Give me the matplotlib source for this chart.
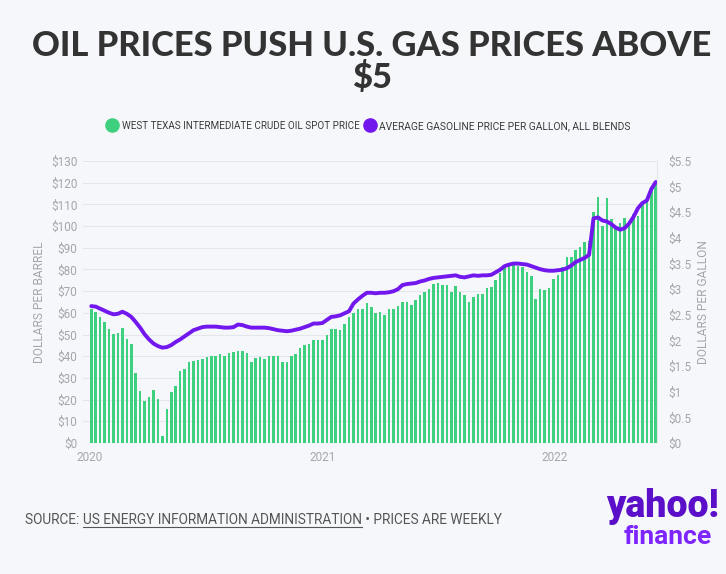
import matplotlib
matplotlib.use("Agg")
import matplotlib.pyplot as plt
import matplotlib.dates as mdates
from matplotlib.lines import Line2D
import pandas as pd

# --- DATOS (semanal, ene 2020 - jun 2022) ---
fechas = pd.date_range("2020-01-03", "2022-06-10", freq="W-FRI")

wti = [
    61.7, 60.6, 58.2, 55.9, 52.4, 50.2, 50.5, 52.8, 48.1, 45.5,
    32.2, 23.9, 19.3, 21.4, 24.3, 20.1, 3.2, 15.6, 23.3, 26.2,
    33.1, 34.0, 37.2, 37.7, 38.1, 38.9, 39.5, 40.0, 40.1, 41.0,
    40.3, 41.3, 41.8, 42.4, 42.6, 41.6, 37.2, 39.4, 39.5, 38.7,
    40.0, 40.0, 40.1, 37.2, 37.5, 40.3, 41.2, 44.0, 45.0, 45.8,
    47.6, 47.3, 47.6, 49.8, 52.5, 52.5, 52.2, 55.0, 58.2, 60.0,
    61.9, 61.9, 64.6, 62.8, 59.7, 60.3, 59.1, 61.6, 61.9, 63.1,
    64.8, 64.8, 63.7, 66.0, 68.4, 69.8, 71.1, 73.2, 73.8, 73.0,
    72.9, 69.4, 72.4, 69.4, 68.0, 64.8, 67.2, 68.9, 68.8, 71.3,
    71.8, 75.2, 78.2, 81.3, 83.0, 83.5, 81.5, 81.3, 78.7, 77.0,
    66.5, 71.0, 70.7, 71.4, 75.6, 77.5, 81.0, 85.9, 85.6, 89.0,
    90.5, 92.5, 93.0, 106.3, 113.2, 100.1, 112.8, 103.2, 100.0, 101.5,
    103.6, 101.7, 105.5, 104.7, 110.5, 112.0, 118.0, 120.3,
]

gasolina = [
    2.67, 2.66, 2.62, 2.58, 2.54, 2.51, 2.52, 2.56, 2.52, 2.46,
    2.36, 2.25, 2.12, 2.02, 1.94, 1.89, 1.86, 1.87, 1.91, 1.97,
    2.02, 2.08, 2.14, 2.20, 2.23, 2.26, 2.27, 2.27, 2.27, 2.26,
    2.25, 2.25, 2.26, 2.31, 2.30, 2.27, 2.25, 2.25, 2.25, 2.25,
    2.24, 2.22, 2.20, 2.19, 2.18, 2.19, 2.21, 2.23, 2.26, 2.29,
    2.33, 2.33, 2.34, 2.40, 2.46, 2.47, 2.49, 2.53, 2.57, 2.72,
    2.80, 2.87, 2.93, 2.93, 2.92, 2.93, 2.93, 2.94, 2.96, 3.00,
    3.08, 3.10, 3.11, 3.12, 3.15, 3.17, 3.20, 3.22, 3.23, 3.24,
    3.25, 3.26, 3.27, 3.24, 3.23, 3.25, 3.27, 3.26, 3.27, 3.27,
    3.28, 3.33, 3.38, 3.45, 3.48, 3.50, 3.50, 3.49, 3.48, 3.45,
    3.42, 3.39, 3.37, 3.36, 3.36, 3.37, 3.38, 3.41, 3.46, 3.53,
    3.57, 3.61, 3.67, 4.38, 4.40, 4.34, 4.32, 4.27, 4.20, 4.16,
    4.19, 4.28, 4.41, 4.58, 4.68, 4.73, 4.95, 5.09,
]

ticks_barril = list(range(0, 131, 10))
ticks_galon = [0, 0.5, 1, 1.5, 2, 2.5, 3, 3.5, 4, 4.5, 5, 5.5]

# --- ESTILO ---
FONDO = "#f5f7fa"
VERDE = "#3fd07f"
MORADO = "#7217ee"
GRIS = "#a3a7ab"
ESTRECHA = ["Roboto", "DejaVu Sans"]

W, H = 726, 574
fig = plt.figure(figsize=(W / 100, H / 100), dpi=100, facecolor=FONDO)
r = fig.canvas.get_renderer()

def px(x, y):
    return x / W, 1 - y / H

def ajustar_ancho(t, ancho):
    # escala el tamaño de letra para que el texto ocupe 'ancho' pixeles
    w = t.get_window_extent(r).width
    t.set_fontsize(t.get_fontsize() * ancho / w)

# ejes en pixeles: izq 83, der 657, arriba 161, abajo 443
ax = fig.add_axes([83 / W, 1 - 443 / H, (657 - 83) / W, (443 - 161) / H])
ax.set_facecolor(FONDO)
ax2 = ax.twinx()

ax.bar(fechas, wti, width=4, color=VERDE, zorder=2)
ax2.plot(fechas, gasolina, color=MORADO, lw=2.8, solid_capstyle="round",
         solid_joinstyle="round", zorder=3)

ax.set_xlim(pd.Timestamp("2019-12-21"), pd.Timestamp("2022-06-12"))
ax.set_ylim(0, 130)
ax2.set_ylim(0, 5.5)

ax.set_yticks(ticks_barril)
ax.set_yticklabels([f"${v}" for v in ticks_barril])
ax2.set_yticks(ticks_galon)
ax2.set_yticklabels([f"${v:g}" for v in ticks_galon])

ax.xaxis.set_major_locator(mdates.YearLocator())
ax.xaxis.set_major_formatter(mdates.DateFormatter("%Y"))

ax.grid(axis="y", color="#e3e6ea", lw=0.8, zorder=0)
ax.set_axisbelow(True)
for a in (ax, ax2):
    for s in ("top", "left", "bottom", "right"):
        a.spines[s].set_visible(False)
ax2.spines["right"].set_visible(True)
ax2.spines["right"].set_color("#e3e6ea")

ax.tick_params(axis="y", length=0, pad=4, labelcolor=GRIS, labelsize=8.5)
ax.tick_params(axis="x", length=0, pad=6, labelcolor=GRIS, labelsize=8.5)
ax2.tick_params(axis="y", length=0, pad=8, labelcolor=GRIS, labelsize=8.5)
for lab in ax.get_yticklabels() + ax.get_xticklabels() + ax2.get_yticklabels():
    lab.set_family(ESTRECHA)

ax.set_ylabel("DOLLARS PER BARREL", color=GRIS, fontsize=8.6, family=ESTRECHA)
ax2.set_ylabel("DOLLARS PER GALLON", color=GRIS, fontsize=8.6, family=ESTRECHA)
ax.yaxis.set_label_coords(-0.064, 0.5)
ax2.yaxis.set_label_coords(1.069, 0.5)

# --- TITULO ---
titulo = fig.text(*px(372, 62), "OIL PRICES PUSH U.S. GAS PRICES ABOVE\n$5",
                  ha="center", va="center", fontsize=25, fontweight="black",
                  family=["Lato", "Roboto", "DejaVu Sans"], color="#333333",
                  linespacing=1.0)
ajustar_ancho(titulo, 679)

# --- LEYENDA (manual) ---
leyenda = [
    (112, 122, 236, VERDE, "WEST TEXAS INTERMEDIATE CRUDE OIL SPOT PRICE"),
    (370, 379, 249, MORADO, "AVERAGE GASOLINE PRICE PER GALLON, ALL BLENDS"),
]
for xc, xt, ancho, color, etiqueta in leyenda:
    fig.add_artist(Line2D([xc / W], [1 - 125 / H], ls="", marker="o", ms=9.5,
                          color=color, transform=fig.transFigure))
    t = fig.text(*px(xt, 125), etiqueta, ha="left", va="center_baseline",
                 fontsize=9, family=ESTRECHA, color="#3b3b3b")
    ajustar_ancho(t, ancho)

# --- FUENTE (con subrayado) ---
partes = ["SOURCE: ", "US ENERGY INFORMATION ADMINISTRATION", " \u2022 PRICES ARE WEEKLY"]
props = dict(fontsize=10, color="#555555", va="baseline", family=ESTRECHA)
medida = fig.text(0, 0, "".join(partes), **props)
ajustar_ancho(medida, 477)
tam = medida.get_fontsize()
medida.remove()
props["fontsize"] = tam

x = 25
for k, parte in enumerate(partes):
    t = fig.text(x / W, 1 - 524 / H, parte, **props)
    bb = t.get_window_extent(r)
    if k == 1:
        fig.add_artist(Line2D([bb.x0 / W, bb.x1 / W], [(H - 527) / H] * 2,
                              color="#555555", lw=0.8, transform=fig.transFigure))
    x = bb.x1

# --- LOGO ---
fig.text(*px(719, 517), "yahoo!", ha="right", va="baseline", fontsize=27,
         fontweight="black", family=["Roboto", "DejaVu Sans"], color="#5b0fc8")
fig.text(*px(712, 544), "finance", ha="right", va="baseline", fontsize=19,
         fontweight="bold", family=["Roboto", "DejaVu Sans"], color="#7d24ff")

fig.savefig("out.png", dpi=100, facecolor=FONDO)
